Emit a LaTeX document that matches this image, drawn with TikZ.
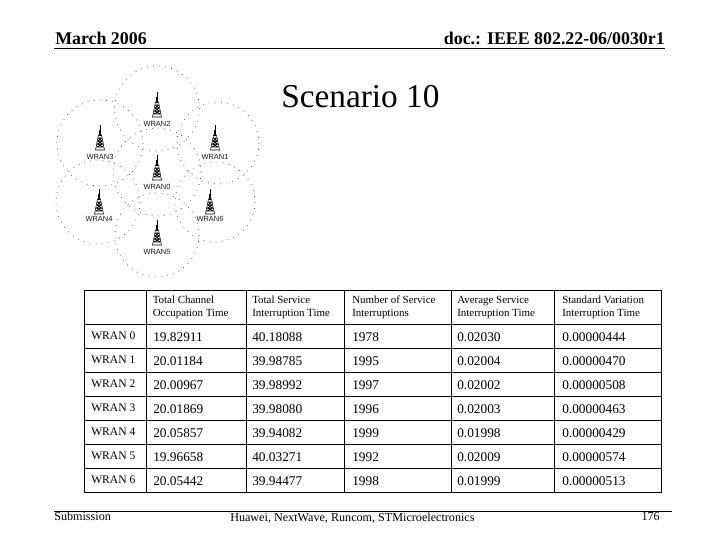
\documentclass[tikz,border=0pt]{standalone}
\usepackage{fontspec}
\setmainfont{Liberation Serif}
\newfontfamily\wransans{Liberation Sans}
\usetikzlibrary{positioning}

\begin{document}
\begin{tikzpicture}
	[
		x=0.75pt, y=-0.75pt,
		pagetext/.style={inner sep=0pt, font=\fontsize{13.4}{15}\selectfont\bfseries},
		foottext/.style={inner sep=0pt, font=\fontsize{9.1}{11}\selectfont},
		coverage/.style={draw=black!70, line width=0.5pt, dash pattern=on 0.6pt off 4pt},
		wranlabel/.style={inner sep=0pt, text=black!90, font=\fontsize{5.6}{6}\selectfont\wransans},
		headnode/.style={anchor=west, inner sep=0pt, align=left, font=\fontsize{8.2}{9.75}\selectfont},
		rownode/.style={anchor=west, inner sep=0pt, font=\fontsize{8.7}{10}\selectfont},
		cellnode/.style={anchor=west, inner sep=0pt, font=\fontsize{10}{12}\selectfont},
		gridline/.style={line width=0.75pt},
		tower/.pic={
			\draw[black, line width=0.4pt] (0,-13) -- (0,-8);
			\draw[black, line width=1.1pt] (0,-8) -- (0,-2);
			\draw[black, line width=0.4pt] (-1.5,-3) -- (-4.5,12) -- (4.5,12) -- (1.5,-3) -- cycle;
			\draw[black, line width=0.4pt] (-2,0) -- (2,0) (-2.5,3) -- (2.5,3) (-3,6) -- (3,6) (-3.6,9) -- (3.6,9) (-2,0) -- (2.5,3) (2,0) -- (-2.5,3) (-2.5,3) -- (3,6) (2.5,3) -- (-3,6) (-3,6) -- (3.6,9) (3,6) -- (-3.6,9);
		},
	]
	\useasboundingbox (0,0) rectangle (720,540);

	% page head and foot
	\node[pagetext, anchor=west] (month) at (55,38) {March 2006};
	\node[pagetext, anchor=east] (docnumber) at (665,38) {doc.: IEEE 802.22-06/0030r1};
	\draw[gridline] (54,48.5) -- (665,48.5);
	\node[inner sep=0pt, anchor=west, font=\fontsize{25}{28}\selectfont] (title) at (281,97) {Scenario 10};
	\draw[gridline] (54,511) -- (672,511);
	\node[foottext, anchor=west] (submission) at (54,516.5) {Submission};
	\node[foottext, anchor=west] (companies) at (230,518.5) {Huawei, NextWave, Runcom, STMicroelectronics};
	\node[foottext, anchor=east] (pagenumber) at (660,516.5) {176};

	% coverage areas
	\draw[coverage] (157,108.5) circle (42.5);
	\draw[coverage] (100,143) circle (43);
	\draw[coverage] (218,143) circle (41);
	\draw[coverage] (157,172) circle (44);
	\draw[coverage] (98,202) circle (42);
	\draw[coverage] (215,202) circle (40);
	\draw[coverage] (157,235) circle (42);

	\pic at (157,105) {tower};
	\pic at (100,138) {tower};
	\pic at (215,138) {tower};
	\pic at (157,168) {tower};
	\pic at (99,202) {tower};
	\pic at (210,202) {tower};
	\pic at (157,233) {tower};

	\node[wranlabel] (wran2) at (157,124) {WRAN2};
	\node[wranlabel] (wran3) at (100,157) {WRAN3};
	\node[wranlabel] (wran1) at (215,157) {WRAN1};
	\node[wranlabel] (wran0) at (157,187) {WRAN0};
	\node[wranlabel] (wran4) at (99,219) {WRAN4};
	\node[wranlabel] (wran6) at (210,219) {WRAN6};
	\node[wranlabel] (wran5) at (157,252) {WRAN5};

	% table grid
	\draw[gridline] (84,290) rectangle (661,492);
	\draw[gridline] (146,290) -- (146,492);
	\draw[gridline] (246,290) -- (246,492);
	\draw[gridline] (344,290) -- (344,492);
	\draw[gridline] (451,290) -- (451,492);
	\draw[gridline] (554,290) -- (554,492);
	\draw[gridline] (84,324) -- (661,324);
	\draw[gridline] (84,348) -- (661,348);
	\draw[gridline] (84,372) -- (661,372);
	\draw[gridline] (84,396) -- (661,396);
	\draw[gridline] (84,420) -- (661,420);
	\draw[gridline] (84,444) -- (661,444);
	\draw[gridline] (84,468) -- (661,468);

	\node[headnode] (occupation) at (152.5,307.5) {Total Channel\\Occupation Time};
	\node[headnode] (interruption) at (252,307.5) {Total Service\\Interruption Time};
	\node[headnode] (number) at (352,307.5) {Number of Service\\Interruptions};
	\node[headnode] (average) at (457,307.5) {Average Service\\Interruption Time};
	\node[headnode] (deviation) at (562,307.5) {Standard Variation\\Interruption Time};

	\node[rownode] (rowzero) at (91,336) {WRAN 0};
	\node[cellnode] at (153,337) {19.82911};
	\node[cellnode] at (252,337) {40.18088};
	\node[cellnode] at (352,337) {1978};
	\node[cellnode] at (457,337) {0.02030};
	\node[cellnode] at (562,337) {0.00000444};

	\node[rownode] (rowone) at (91,360) {WRAN 1};
	\node[cellnode] at (153,361) {20.01184};
	\node[cellnode] at (252,361) {39.98785};
	\node[cellnode] at (352,361) {1995};
	\node[cellnode] at (457,361) {0.02004};
	\node[cellnode] at (562,361) {0.00000470};

	\node[rownode] (rowtwo) at (91,384) {WRAN 2};
	\node[cellnode] at (153,385) {20.00967};
	\node[cellnode] at (252,385) {39.98992};
	\node[cellnode] at (352,385) {1997};
	\node[cellnode] at (457,385) {0.02002};
	\node[cellnode] at (562,385) {0.00000508};

	\node[rownode] (rowthree) at (91,408) {WRAN 3};
	\node[cellnode] at (153,409) {20.01869};
	\node[cellnode] at (252,409) {39.98080};
	\node[cellnode] at (352,409) {1996};
	\node[cellnode] at (457,409) {0.02003};
	\node[cellnode] at (562,409) {0.00000463};

	\node[rownode] (rowfour) at (91,432) {WRAN 4};
	\node[cellnode] at (153,433) {20.05857};
	\node[cellnode] at (252,433) {39.94082};
	\node[cellnode] at (352,433) {1999};
	\node[cellnode] at (457,433) {0.01998};
	\node[cellnode] at (562,433) {0.00000429};

	\node[rownode] (rowfive) at (91,456) {WRAN 5};
	\node[cellnode] at (153,457) {19.96658};
	\node[cellnode] at (252,457) {40.03271};
	\node[cellnode] at (352,457) {1992};
	\node[cellnode] at (457,457) {0.02009};
	\node[cellnode] at (562,457) {0.00000574};

	\node[rownode] (rowsix) at (91,480) {WRAN 6};
	\node[cellnode] at (153,481) {20.05442};
	\node[cellnode] at (252,481) {39.94477};
	\node[cellnode] at (352,481) {1998};
	\node[cellnode] at (457,481) {0.01999};
	\node[cellnode] at (562,481) {0.00000513};

\end{tikzpicture}
\end{document}
